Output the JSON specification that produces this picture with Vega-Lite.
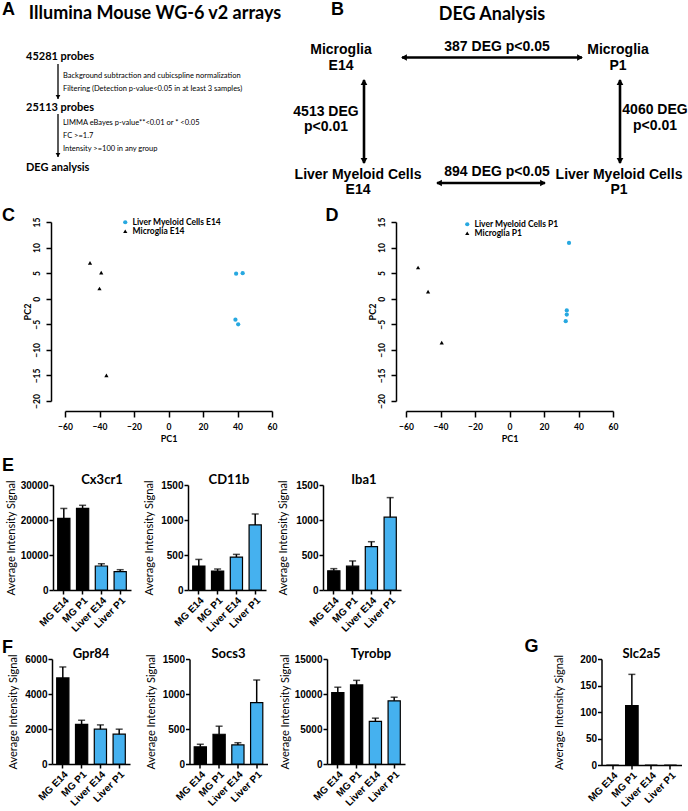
{
  "$schema": "https://vega.github.io/schema/vega-lite/v6.json",
  "padding": 0,
  "background": "#ffffff",
  "config": {
    "view": {"stroke": null},
    "font": "Lato",
    "axis": {"grid": false, "labelOverlap": false, "domainColor": "#000000", "tickColor": "#000000", "labelColor": "#000000", "titleColor": "#000000", "domainWidth": 1.5, "tickWidth": 1.5},
    "axisQuantitative": {"labelOverlap": false},
    "title": {"color": "#000000"}
  },
  "datasets": {
    "diagLetters": [{"x": 2, "y": 10, "t": "A"}, {"x": 331, "y": 10, "t": "B"}],
    "diagHeadings": [{"x": 155, "y": 14, "t": "Illumina Mouse WG-6 v2 arrays"}, {"x": 492, "y": 15, "t": "DEG Analysis"}],
    "diagCounts": [{"x": 26, "y": 57, "t": "45281 probes"}, {"x": 26, "y": 108, "t": "25113 probes"}, {"x": 26, "y": 168, "t": "DEG analysis"}],
    "diagNotes": [
      {"x": 63, "y": 76, "t": "Background subtraction and cubicspline normalization"},
      {"x": 63, "y": 89, "t": "Filtering (Detection p-value<0.05 in at least 3 samples)"},
      {"x": 63, "y": 123, "t": "LIMMA eBayes p-value**<0.01 or * <0.05"},
      {"x": 63, "y": 136, "t": "FC >=1.7"},
      {"x": 63, "y": 149, "t": "Intensity >=100 in any group"}
    ],
    "diagB": [
      {"x": 341, "y": 50, "t": "Microglia"}, {"x": 341, "y": 66, "t": "E14"},
      {"x": 618, "y": 50, "t": "Microglia"}, {"x": 618, "y": 66, "t": "P1"},
      {"x": 358, "y": 175, "t": "Liver Myeloid Cells"}, {"x": 358, "y": 190, "t": "E14"},
      {"x": 619, "y": 175, "t": "Liver Myeloid Cells"}, {"x": 619, "y": 190, "t": "P1"},
      {"x": 497, "y": 47, "t": "387 DEG p<0.05"},
      {"x": 326, "y": 112, "t": "4513 DEG"}, {"x": 326, "y": 127, "t": "p<0.01"},
      {"x": 655, "y": 110, "t": "4060 DEG"}, {"x": 655, "y": 126, "t": "p<0.01"},
      {"x": 497, "y": 172, "t": "894 DEG p<0.05"}
    ],
    "diagLinesA": [{"x": 58, "y": 64, "x2": 58, "y2": 99}, {"x": 58, "y": 114, "x2": 58, "y2": 157}],
    "diagLinesB": [
      {"x": 402, "y": 57.5, "x2": 582, "y2": 57.5},
      {"x": 364, "y": 80, "x2": 364, "y2": 163},
      {"x": 620, "y": 80, "x2": 620, "y2": 163},
      {"x": 437, "y": 183, "x2": 545, "y2": 183}
    ],
    "diagHeadsA": [{"x": 58, "y": 97, "dir": "down"}, {"x": 58, "y": 155, "dir": "down"}],
    "diagHeadsB": [
      {"x": 404, "y": 57.5, "dir": "left"}, {"x": 580, "y": 57.5, "dir": "right"},
      {"x": 364, "y": 82, "dir": "up"}, {"x": 364, "y": 161, "dir": "down"},
      {"x": 620, "y": 82, "dir": "up"}, {"x": 620, "y": 161, "dir": "down"},
      {"x": 439, "y": 183, "dir": "left"}, {"x": 543, "y": 183, "dir": "right"}
    ],
    "pcaE14": [
      {"group": "Microglia E14", "PC1": -45.5, "PC2": 7},
      {"group": "Microglia E14", "PC1": -39, "PC2": 5.1},
      {"group": "Microglia E14", "PC1": -40, "PC2": 2},
      {"group": "Microglia E14", "PC1": -36, "PC2": -15},
      {"group": "Liver Myeloid Cells E14", "PC1": 39.2, "PC2": 4.9},
      {"group": "Liver Myeloid Cells E14", "PC1": 43, "PC2": 5},
      {"group": "Liver Myeloid Cells E14", "PC1": 38.8, "PC2": -4.1},
      {"group": "Liver Myeloid Cells E14", "PC1": 40.4, "PC2": -5}
    ],
    "pcaP1": [
      {"group": "Microglia P1", "PC1": -53, "PC2": 6.1},
      {"group": "Microglia P1", "PC1": -47.2, "PC2": 1.4},
      {"group": "Microglia P1", "PC1": -39.3, "PC2": -8.6},
      {"group": "Liver Myeloid Cells P1", "PC1": 34.5, "PC2": 10.9},
      {"group": "Liver Myeloid Cells P1", "PC1": 33.2, "PC2": -2.3},
      {"group": "Liver Myeloid Cells P1", "PC1": 33.2, "PC2": -3.1},
      {"group": "Liver Myeloid Cells P1", "PC1": 32.6, "PC2": -4.4}
    ],
    "bars": [
      {"gene": "Cx3cr1", "group": "MG E14", "value": 20460, "hi": 23300},
      {"gene": "Cx3cr1", "group": "MG P1", "value": 23300, "hi": 24200},
      {"gene": "Cx3cr1", "group": "Liver E14", "value": 6860, "hi": 7500},
      {"gene": "Cx3cr1", "group": "Liver P1", "value": 5230, "hi": 5800},
      {"gene": "CD11b", "group": "MG E14", "value": 343, "hi": 437},
      {"gene": "CD11b", "group": "MG P1", "value": 271, "hi": 300},
      {"gene": "CD11b", "group": "Liver E14", "value": 471, "hi": 509},
      {"gene": "CD11b", "group": "Liver P1", "value": 929, "hi": 1086},
      {"gene": "Iba1", "group": "MG E14", "value": 275, "hi": 305},
      {"gene": "Iba1", "group": "MG P1", "value": 340, "hi": 415},
      {"gene": "Iba1", "group": "Liver E14", "value": 620, "hi": 690},
      {"gene": "Iba1", "group": "Liver P1", "value": 1040, "hi": 1320},
      {"gene": "Gpr84", "group": "MG E14", "value": 4920, "hi": 5545},
      {"gene": "Gpr84", "group": "MG P1", "value": 2270, "hi": 2500},
      {"gene": "Gpr84", "group": "Liver E14", "value": 1990, "hi": 2235},
      {"gene": "Gpr84", "group": "Liver P1", "value": 1705, "hi": 1990},
      {"gene": "Socs3", "group": "MG E14", "value": 245, "hi": 282},
      {"gene": "Socs3", "group": "MG P1", "value": 425, "hi": 540},
      {"gene": "Socs3", "group": "Liver E14", "value": 272, "hi": 304},
      {"gene": "Socs3", "group": "Liver P1", "value": 877, "hi": 1200},
      {"gene": "Tyrobp", "group": "MG E14", "value": 10200, "hi": 10970},
      {"gene": "Tyrobp", "group": "MG P1", "value": 11300, "hi": 11950},
      {"gene": "Tyrobp", "group": "Liver E14", "value": 6100, "hi": 6550},
      {"gene": "Tyrobp", "group": "Liver P1", "value": 9020, "hi": 9540},
      {"gene": "Slc2a5", "group": "MG E14", "value": 0, "hi": null},
      {"gene": "Slc2a5", "group": "MG P1", "value": 112, "hi": 171},
      {"gene": "Slc2a5", "group": "Liver E14", "value": 0, "hi": null},
      {"gene": "Slc2a5", "group": "Liver P1", "value": 0, "hi": null}
    ]
  },
  "columns": 1,
  "spacing": 6,
  "resolve": {"scale": {"color": "independent", "shape": "independent"}},
  "concat": [
    {
      "width": 688, "height": 200,
      "encoding": {
        "x": {"field": "x", "type": "quantitative", "scale": {"domain": [0, 688]}, "axis": null},
        "y": {"field": "y", "type": "quantitative", "scale": {"domain": [0, 200], "reverse": true}, "axis": null}
      },
      "layer": [
        {"data": {"name": "diagLinesA"}, "mark": {"type": "rule", "strokeWidth": 1.3, "color": "#000000"}, "encoding": {"x2": {"field": "x2"}, "y2": {"field": "y2"}}},
        {"data": {"name": "diagLinesB"}, "mark": {"type": "rule", "strokeWidth": 2.6, "color": "#000000"}, "encoding": {"x2": {"field": "x2"}, "y2": {"field": "y2"}}},
        {"data": {"name": "diagHeadsA"}, "mark": {"type": "point", "filled": true, "size": 22, "color": "#000000", "opacity": 1}, "encoding": {"shape": {"field": "dir", "type": "nominal", "scale": {"domain": ["left", "right", "up", "down"], "range": ["triangle-left", "triangle-right", "triangle-up", "triangle-down"]}, "legend": null}}},
        {"data": {"name": "diagHeadsB"}, "mark": {"type": "point", "filled": true, "size": 45, "color": "#000000", "opacity": 1}, "encoding": {"shape": {"field": "dir", "type": "nominal", "scale": {"domain": ["left", "right", "up", "down"], "range": ["triangle-left", "triangle-right", "triangle-up", "triangle-down"]}, "legend": null}}},
        {"data": {"name": "diagLetters"}, "mark": {"type": "text", "align": "left", "baseline": "middle", "font": "Liberation Sans", "fontSize": 18, "fontWeight": "bold", "color": "#000000"}, "encoding": {"text": {"field": "t"}}},
        {"data": {"name": "diagHeadings"}, "mark": {"type": "text", "align": "center", "baseline": "middle", "font": "Lato", "fontSize": 18, "fontWeight": "bold", "color": "#000000"}, "encoding": {"text": {"field": "t"}}},
        {"data": {"name": "diagCounts"}, "mark": {"type": "text", "align": "left", "baseline": "middle", "font": "Lato", "fontSize": 11, "fontWeight": "bold", "color": "#000000"}, "encoding": {"text": {"field": "t"}}},
        {"data": {"name": "diagNotes"}, "mark": {"type": "text", "align": "left", "baseline": "middle", "font": "Lato", "fontSize": 7.5, "color": "#000000"}, "encoding": {"text": {"field": "t"}}},
        {"data": {"name": "diagB"}, "mark": {"type": "text", "align": "center", "baseline": "middle", "font": "Liberation Sans", "fontSize": 14, "fontWeight": "bold", "color": "#000000"}, "encoding": {"text": {"field": "t"}}}
      ]
    },
    {
      "columns": 1,
      "spacing": 13,
      "resolve": {"scale": {"color": "independent", "shape": "independent"}},
      "concat": [
        {
          "bounds": "flush",
          "spacing": 53,
          "resolve": {"scale": {"color": "independent", "shape": "independent"}},
          "hconcat": [
            {
              "width": 12, "height": 10,
              "title": {"text": "C", "anchor": "start", "frame": "bounds", "font": "Liberation Sans", "fontSize": 18, "fontWeight": "bold", "baseline": "alphabetic", "offset": -17, "dx": 2},
              "data": {"values": []},
              "mark": "point"
            },
            {
              "bounds": "flush",
              "spacing": 134,
              "resolve": {"scale": {"color": "independent", "shape": "independent"}},
              "hconcat": [
                {
                  "width": 207, "height": 179,
                  "data": {"name": "pcaE14"},
                  "mark": {"type": "point", "filled": true, "size": 18, "opacity": 1},
                  "encoding": {
                    "x": {"field": "PC1", "type": "quantitative", "scale": {"domain": [-60, 60], "nice": false}, "axis": {"values": [-60, -40, -20, 0, 20, 40, 60], "offset": 10, "tickSize": 6, "labelFont": "Lato", "labelFontSize": 8.5, "labelFontWeight": "bold", "labelPadding": 5, "labelFlush": false, "title": "PC1", "titleFont": "Lato", "titleFontSize": 9, "titleFontWeight": "bold", "titlePadding": 4}},
                    "y": {"field": "PC2", "type": "quantitative", "scale": {"domain": [-20, 15], "nice": false}, "axis": {"values": [-20, -15, -10, -5, 0, 5, 10, 15], "offset": 14, "tickSize": 5, "labelAngle": 270, "labelFont": "Lato", "labelFontSize": 8.5, "labelFontWeight": "bold", "labelPadding": 5, "labelOverlap": false, "title": "PC2", "titleFont": "Lato", "titleFontSize": 9, "titleFontWeight": "bold", "titlePadding": 0}},
                    "color": {"field": "group", "type": "nominal", "scale": {"domain": ["Liver Myeloid Cells E14", "Microglia E14"], "range": ["#27a8e0", "#000000"]}, "legend": {"orient": "none", "legendX": 56, "legendY": -4, "title": null, "labelFont": "Lato", "labelFontSize": 8.5, "labelFontWeight": "bold", "symbolSize": 18, "rowPadding": 0, "labelOffset": 3, "padding": 0, "symbolStrokeWidth": 0, "labelLimit": 300}},
                    "shape": {"field": "group", "type": "nominal", "scale": {"domain": ["Liver Myeloid Cells E14", "Microglia E14"], "range": ["circle", "triangle-up"]}}
                  }
                },
                {
                  "width": 207, "height": 179,
                  "title": {"text": "D", "anchor": "start", "frame": "bounds", "font": "Liberation Sans", "fontSize": 18, "fontWeight": "bold", "baseline": "alphabetic", "offset": -21.5, "dx": -42.5},
                  "data": {"name": "pcaP1"},
                  "mark": {"type": "point", "filled": true, "size": 18, "opacity": 1},
                  "encoding": {
                    "x": {"field": "PC1", "type": "quantitative", "scale": {"domain": [-60, 60], "nice": false}, "axis": {"values": [-60, -40, -20, 0, 20, 40, 60], "offset": 10, "tickSize": 6, "labelFont": "Lato", "labelFontSize": 8.5, "labelFontWeight": "bold", "labelPadding": 5, "labelFlush": false, "title": "PC1", "titleFont": "Lato", "titleFontSize": 9, "titleFontWeight": "bold", "titlePadding": 4}},
                    "y": {"field": "PC2", "type": "quantitative", "scale": {"domain": [-20, 15], "nice": false}, "axis": {"values": [-20, -15, -10, -5, 0, 5, 10, 15], "offset": 10, "tickSize": 5, "labelAngle": 270, "labelFont": "Lato", "labelFontSize": 8.5, "labelFontWeight": "bold", "labelPadding": 5, "labelOverlap": false, "title": "PC2", "titleFont": "Lato", "titleFontSize": 9, "titleFontWeight": "bold", "titlePadding": 0}},
                    "color": {"field": "group", "type": "nominal", "scale": {"domain": ["Liver Myeloid Cells P1", "Microglia P1"], "range": ["#27a8e0", "#000000"]}, "legend": {"orient": "none", "legendX": 57, "legendY": -2, "title": null, "labelFont": "Lato", "labelFontSize": 8.5, "labelFontWeight": "bold", "symbolSize": 18, "rowPadding": 0, "labelOffset": 3, "padding": 0, "symbolStrokeWidth": 0, "labelLimit": 300}},
                    "shape": {"field": "group", "type": "nominal", "scale": {"domain": ["Liver Myeloid Cells P1", "Microglia P1"], "range": ["circle", "triangle-up"]}}
                  }
                }
              ]
            }
          ]
        },
        {
          "columns": 1,
          "spacing": 4,
          "concat": [
            {
              "bounds": "flush",
              "spacing": 41,
              "hconcat": [
                {
                  "width": 12, "height": 10,
                  "title": {"text": "E", "anchor": "start", "frame": "bounds", "font": "Liberation Sans", "fontSize": 18, "fontWeight": "bold", "baseline": "alphabetic", "offset": -4.4, "dx": 2},
                  "data": {"values": []},
                  "mark": "point"
                },
                {
                  "bounds": "flush",
                  "spacing": 57,
                  "hconcat": [
                    {
                      "width": 78, "height": 105,
                      "title": {"text": "Cx3cr1", "frame": "group", "font": "Lato", "fontSize": 13, "fontWeight": "bold", "baseline": "alphabetic", "offset": -17, "dx": 10},
                      "data": {"name": "bars"},
                      "transform": [{"filter": "datum.gene === 'Cx3cr1'"}],
                      "encoding": {"x": {"field": "group", "type": "nominal", "sort": ["MG E14", "MG P1", "Liver E14", "Liver P1"], "scale": {"paddingInner": 0.35, "paddingOuter": 0.25}, "axis": {"title": null, "labelAngle": -45, "labelFont": "Liberation Sans", "labelFontWeight": "bold", "labelFontSize": 10, "tickSize": 4, "labelPadding": 1}}},
                      "layer": [
                        {"mark": {"type": "bar", "stroke": "#000000", "strokeWidth": 1.2}, "encoding": {"y": {"field": "value", "type": "quantitative", "scale": {"domain": [0, 30000], "nice": false}, "axis": {"values": [0, 10000, 20000, 30000], "format": "d", "labelOverlap": false, "tickSize": 4, "labelFont": "Liberation Sans", "labelFontWeight": "bold", "labelFontSize": 10, "labelPadding": 1, "title": "Average Intensity Signal", "titleFont": "Lato", "titleFontSize": 11, "titleFontWeight": "normal", "titlePadding": 4}}, "color": {"field": "group", "type": "nominal", "scale": {"domain": ["MG E14", "MG P1", "Liver E14", "Liver P1"], "range": ["#000000", "#000000", "#45b1ef", "#45b1ef"]}, "legend": null}}},
                        {"transform": [{"filter": "datum.hi != null"}], "mark": {"type": "rule", "strokeWidth": 1.5, "color": "#000000"}, "encoding": {"y": {"field": "value", "type": "quantitative", "scale": {"domain": [0, 30000], "nice": false}, "axis": {"values": [0, 10000, 20000, 30000], "format": "d", "labelOverlap": false, "tickSize": 4, "labelFont": "Liberation Sans", "labelFontWeight": "bold", "labelFontSize": 10, "labelPadding": 1, "title": "Average Intensity Signal", "titleFont": "Lato", "titleFontSize": 11, "titleFontWeight": "normal", "titlePadding": 4}}, "y2": {"field": "hi"}}},
                        {"transform": [{"filter": "datum.hi != null"}], "mark": {"type": "tick", "thickness": 1.5, "size": 7, "color": "#000000"}, "encoding": {"y": {"field": "hi", "type": "quantitative", "scale": {"domain": [0, 30000], "nice": false}, "axis": {"values": [0, 10000, 20000, 30000], "format": "d", "labelOverlap": false, "tickSize": 4, "labelFont": "Liberation Sans", "labelFontWeight": "bold", "labelFontSize": 10, "labelPadding": 1, "title": "Average Intensity Signal", "titleFont": "Lato", "titleFontSize": 11, "titleFontWeight": "normal", "titlePadding": 4}}}}
                      ]
                    },
                    {
                      "width": 78, "height": 105,
                      "title": {"text": "CD11b", "frame": "group", "font": "Lato", "fontSize": 13, "fontWeight": "bold", "baseline": "alphabetic", "offset": -17, "dx": 2},
                      "data": {"name": "bars"},
                      "transform": [{"filter": "datum.gene === 'CD11b'"}],
                      "encoding": {"x": {"field": "group", "type": "nominal", "sort": ["MG E14", "MG P1", "Liver E14", "Liver P1"], "scale": {"paddingInner": 0.35, "paddingOuter": 0.25}, "axis": {"title": null, "labelAngle": -45, "labelFont": "Liberation Sans", "labelFontWeight": "bold", "labelFontSize": 10, "tickSize": 4, "labelPadding": 1}}},
                      "layer": [
                        {"mark": {"type": "bar", "stroke": "#000000", "strokeWidth": 1.2}, "encoding": {"y": {"field": "value", "type": "quantitative", "scale": {"domain": [0, 1500], "nice": false}, "axis": {"values": [0, 500, 1000, 1500], "format": "d", "labelOverlap": false, "tickSize": 4, "labelFont": "Liberation Sans", "labelFontWeight": "bold", "labelFontSize": 10, "labelPadding": 1, "title": "Average Intensity Signal", "titleFont": "Lato", "titleFontSize": 11, "titleFontWeight": "normal", "titlePadding": 6}}, "color": {"field": "group", "type": "nominal", "scale": {"domain": ["MG E14", "MG P1", "Liver E14", "Liver P1"], "range": ["#000000", "#000000", "#45b1ef", "#45b1ef"]}, "legend": null}}},
                        {"transform": [{"filter": "datum.hi != null"}], "mark": {"type": "rule", "strokeWidth": 1.5, "color": "#000000"}, "encoding": {"y": {"field": "value", "type": "quantitative", "scale": {"domain": [0, 1500], "nice": false}, "axis": {"values": [0, 500, 1000, 1500], "format": "d", "labelOverlap": false, "tickSize": 4, "labelFont": "Liberation Sans", "labelFontWeight": "bold", "labelFontSize": 10, "labelPadding": 1, "title": "Average Intensity Signal", "titleFont": "Lato", "titleFontSize": 11, "titleFontWeight": "normal", "titlePadding": 6}}, "y2": {"field": "hi"}}},
                        {"transform": [{"filter": "datum.hi != null"}], "mark": {"type": "tick", "thickness": 1.5, "size": 7, "color": "#000000"}, "encoding": {"y": {"field": "hi", "type": "quantitative", "scale": {"domain": [0, 1500], "nice": false}, "axis": {"values": [0, 500, 1000, 1500], "format": "d", "labelOverlap": false, "tickSize": 4, "labelFont": "Liberation Sans", "labelFontWeight": "bold", "labelFontSize": 10, "labelPadding": 1, "title": "Average Intensity Signal", "titleFont": "Lato", "titleFontSize": 11, "titleFontWeight": "normal", "titlePadding": 6}}}}
                      ]
                    },
                    {
                      "width": 78, "height": 105,
                      "title": {"text": "Iba1", "frame": "group", "font": "Lato", "fontSize": 13, "fontWeight": "bold", "baseline": "alphabetic", "offset": -17, "dx": 2},
                      "data": {"name": "bars"},
                      "transform": [{"filter": "datum.gene === 'Iba1'"}],
                      "encoding": {"x": {"field": "group", "type": "nominal", "sort": ["MG E14", "MG P1", "Liver E14", "Liver P1"], "scale": {"paddingInner": 0.35, "paddingOuter": 0.25}, "axis": {"title": null, "labelAngle": -45, "labelFont": "Liberation Sans", "labelFontWeight": "bold", "labelFontSize": 10, "tickSize": 4, "labelPadding": 1}}},
                      "layer": [
                        {"mark": {"type": "bar", "stroke": "#000000", "strokeWidth": 1.2}, "encoding": {"y": {"field": "value", "type": "quantitative", "scale": {"domain": [0, 1500], "nice": false}, "axis": {"values": [0, 500, 1000, 1500], "format": "d", "labelOverlap": false, "tickSize": 4, "labelFont": "Liberation Sans", "labelFontWeight": "bold", "labelFontSize": 10, "labelPadding": 1, "title": "Average Intensity Signal", "titleFont": "Lato", "titleFontSize": 11, "titleFontWeight": "normal", "titlePadding": 7}}, "color": {"field": "group", "type": "nominal", "scale": {"domain": ["MG E14", "MG P1", "Liver E14", "Liver P1"], "range": ["#000000", "#000000", "#45b1ef", "#45b1ef"]}, "legend": null}}},
                        {"transform": [{"filter": "datum.hi != null"}], "mark": {"type": "rule", "strokeWidth": 1.5, "color": "#000000"}, "encoding": {"y": {"field": "value", "type": "quantitative", "scale": {"domain": [0, 1500], "nice": false}, "axis": {"values": [0, 500, 1000, 1500], "format": "d", "labelOverlap": false, "tickSize": 4, "labelFont": "Liberation Sans", "labelFontWeight": "bold", "labelFontSize": 10, "labelPadding": 1, "title": "Average Intensity Signal", "titleFont": "Lato", "titleFontSize": 11, "titleFontWeight": "normal", "titlePadding": 7}}, "y2": {"field": "hi"}}},
                        {"transform": [{"filter": "datum.hi != null"}], "mark": {"type": "tick", "thickness": 1.5, "size": 7, "color": "#000000"}, "encoding": {"y": {"field": "hi", "type": "quantitative", "scale": {"domain": [0, 1500], "nice": false}, "axis": {"values": [0, 500, 1000, 1500], "format": "d", "labelOverlap": false, "tickSize": 4, "labelFont": "Liberation Sans", "labelFontWeight": "bold", "labelFontSize": 10, "labelPadding": 1, "title": "Average Intensity Signal", "titleFont": "Lato", "titleFontSize": 11, "titleFontWeight": "normal", "titlePadding": 7}}}}
                      ]
                    }
                  ]
                }
              ]
            },
            {
              "bounds": "flush",
              "spacing": 40,
              "hconcat": [
                {
                  "width": 12, "height": 10,
                  "title": {"text": "F", "anchor": "start", "frame": "bounds", "font": "Liberation Sans", "fontSize": 18, "fontWeight": "bold", "baseline": "alphabetic", "offset": -12.3, "dx": 2},
                  "data": {"values": []},
                  "mark": "point"
                },
                {
                  "spacing": 119.5,
                  "hconcat": [
                    {
                      "bounds": "flush",
                      "spacing": 59.5,
                      "hconcat": [
                        {
                          "width": 78, "height": 105,
                          "title": {"text": "Gpr84", "frame": "group", "font": "Lato", "fontSize": 13, "fontWeight": "bold", "baseline": "alphabetic", "offset": -17, "dx": 0},
                          "data": {"name": "bars"},
                          "transform": [{"filter": "datum.gene === 'Gpr84'"}],
                          "encoding": {"x": {"field": "group", "type": "nominal", "sort": ["MG E14", "MG P1", "Liver E14", "Liver P1"], "scale": {"paddingInner": 0.35, "paddingOuter": 0.25}, "axis": {"title": null, "labelAngle": -45, "labelFont": "Liberation Sans", "labelFontWeight": "bold", "labelFontSize": 10, "tickSize": 4, "labelPadding": 1}}},
                          "layer": [
                            {"mark": {"type": "bar", "stroke": "#000000", "strokeWidth": 1.2}, "encoding": {"y": {"field": "value", "type": "quantitative", "scale": {"domain": [0, 6000], "nice": false}, "axis": {"values": [0, 2000, 4000, 6000], "format": "d", "labelOverlap": false, "tickSize": 4, "labelFont": "Liberation Sans", "labelFontWeight": "bold", "labelFontSize": 10, "labelPadding": 1, "title": "Average Intensity Signal", "titleFont": "Lato", "titleFontSize": 11, "titleFontWeight": "normal", "titlePadding": 6.5}}, "color": {"field": "group", "type": "nominal", "scale": {"domain": ["MG E14", "MG P1", "Liver E14", "Liver P1"], "range": ["#000000", "#000000", "#45b1ef", "#45b1ef"]}, "legend": null}}},
                            {"transform": [{"filter": "datum.hi != null"}], "mark": {"type": "rule", "strokeWidth": 1.5, "color": "#000000"}, "encoding": {"y": {"field": "value", "type": "quantitative", "scale": {"domain": [0, 6000], "nice": false}, "axis": {"values": [0, 2000, 4000, 6000], "format": "d", "labelOverlap": false, "tickSize": 4, "labelFont": "Liberation Sans", "labelFontWeight": "bold", "labelFontSize": 10, "labelPadding": 1, "title": "Average Intensity Signal", "titleFont": "Lato", "titleFontSize": 11, "titleFontWeight": "normal", "titlePadding": 6.5}}, "y2": {"field": "hi"}}},
                            {"transform": [{"filter": "datum.hi != null"}], "mark": {"type": "tick", "thickness": 1.5, "size": 7, "color": "#000000"}, "encoding": {"y": {"field": "hi", "type": "quantitative", "scale": {"domain": [0, 6000], "nice": false}, "axis": {"values": [0, 2000, 4000, 6000], "format": "d", "labelOverlap": false, "tickSize": 4, "labelFont": "Liberation Sans", "labelFontWeight": "bold", "labelFontSize": 10, "labelPadding": 1, "title": "Average Intensity Signal", "titleFont": "Lato", "titleFontSize": 11, "titleFontWeight": "normal", "titlePadding": 6.5}}}}
                          ]
                        },
                        {
                          "width": 78, "height": 105,
                          "title": {"text": "Socs3", "frame": "group", "font": "Lato", "fontSize": 13, "fontWeight": "bold", "baseline": "alphabetic", "offset": -17, "dx": 0},
                          "data": {"name": "bars"},
                          "transform": [{"filter": "datum.gene === 'Socs3'"}],
                          "encoding": {"x": {"field": "group", "type": "nominal", "sort": ["MG E14", "MG P1", "Liver E14", "Liver P1"], "scale": {"paddingInner": 0.35, "paddingOuter": 0.25}, "axis": {"title": null, "labelAngle": -45, "labelFont": "Liberation Sans", "labelFontWeight": "bold", "labelFontSize": 10, "tickSize": 4, "labelPadding": 1}}},
                          "layer": [
                            {"mark": {"type": "bar", "stroke": "#000000", "strokeWidth": 1.2}, "encoding": {"y": {"field": "value", "type": "quantitative", "scale": {"domain": [0, 1500], "nice": false}, "axis": {"values": [0, 500, 1000, 1500], "format": "d", "labelOverlap": false, "tickSize": 4, "labelFont": "Liberation Sans", "labelFontWeight": "bold", "labelFontSize": 10, "labelPadding": 1, "title": "Average Intensity Signal", "titleFont": "Lato", "titleFontSize": 11, "titleFontWeight": "normal", "titlePadding": 6}}, "color": {"field": "group", "type": "nominal", "scale": {"domain": ["MG E14", "MG P1", "Liver E14", "Liver P1"], "range": ["#000000", "#000000", "#45b1ef", "#45b1ef"]}, "legend": null}}},
                            {"transform": [{"filter": "datum.hi != null"}], "mark": {"type": "rule", "strokeWidth": 1.5, "color": "#000000"}, "encoding": {"y": {"field": "value", "type": "quantitative", "scale": {"domain": [0, 1500], "nice": false}, "axis": {"values": [0, 500, 1000, 1500], "format": "d", "labelOverlap": false, "tickSize": 4, "labelFont": "Liberation Sans", "labelFontWeight": "bold", "labelFontSize": 10, "labelPadding": 1, "title": "Average Intensity Signal", "titleFont": "Lato", "titleFontSize": 11, "titleFontWeight": "normal", "titlePadding": 6}}, "y2": {"field": "hi"}}},
                            {"transform": [{"filter": "datum.hi != null"}], "mark": {"type": "tick", "thickness": 1.5, "size": 7, "color": "#000000"}, "encoding": {"y": {"field": "hi", "type": "quantitative", "scale": {"domain": [0, 1500], "nice": false}, "axis": {"values": [0, 500, 1000, 1500], "format": "d", "labelOverlap": false, "tickSize": 4, "labelFont": "Liberation Sans", "labelFontWeight": "bold", "labelFontSize": 10, "labelPadding": 1, "title": "Average Intensity Signal", "titleFont": "Lato", "titleFontSize": 11, "titleFontWeight": "normal", "titlePadding": 6}}}}
                          ]
                        },
                        {
                          "width": 78, "height": 105,
                          "title": {"text": "Tyrobp", "frame": "group", "font": "Lato", "fontSize": 13, "fontWeight": "bold", "baseline": "alphabetic", "offset": -17, "dx": 5},
                          "data": {"name": "bars"},
                          "transform": [{"filter": "datum.gene === 'Tyrobp'"}],
                          "encoding": {"x": {"field": "group", "type": "nominal", "sort": ["MG E14", "MG P1", "Liver E14", "Liver P1"], "scale": {"paddingInner": 0.35, "paddingOuter": 0.25}, "axis": {"title": null, "labelAngle": -45, "labelFont": "Liberation Sans", "labelFontWeight": "bold", "labelFontSize": 10, "tickSize": 4, "labelPadding": 1}}},
                          "layer": [
                            {"mark": {"type": "bar", "stroke": "#000000", "strokeWidth": 1.2}, "encoding": {"y": {"field": "value", "type": "quantitative", "scale": {"domain": [0, 15000], "nice": false}, "axis": {"values": [0, 5000, 10000, 15000], "format": "d", "labelOverlap": false, "tickSize": 4, "labelFont": "Liberation Sans", "labelFontWeight": "bold", "labelFontSize": 10, "labelPadding": 1, "title": "Average Intensity Signal", "titleFont": "Lato", "titleFontSize": 11, "titleFontWeight": "normal", "titlePadding": 4}}, "color": {"field": "group", "type": "nominal", "scale": {"domain": ["MG E14", "MG P1", "Liver E14", "Liver P1"], "range": ["#000000", "#000000", "#45b1ef", "#45b1ef"]}, "legend": null}}},
                            {"transform": [{"filter": "datum.hi != null"}], "mark": {"type": "rule", "strokeWidth": 1.5, "color": "#000000"}, "encoding": {"y": {"field": "value", "type": "quantitative", "scale": {"domain": [0, 15000], "nice": false}, "axis": {"values": [0, 5000, 10000, 15000], "format": "d", "labelOverlap": false, "tickSize": 4, "labelFont": "Liberation Sans", "labelFontWeight": "bold", "labelFontSize": 10, "labelPadding": 1, "title": "Average Intensity Signal", "titleFont": "Lato", "titleFontSize": 11, "titleFontWeight": "normal", "titlePadding": 4}}, "y2": {"field": "hi"}}},
                            {"transform": [{"filter": "datum.hi != null"}], "mark": {"type": "tick", "thickness": 1.5, "size": 7, "color": "#000000"}, "encoding": {"y": {"field": "hi", "type": "quantitative", "scale": {"domain": [0, 15000], "nice": false}, "axis": {"values": [0, 5000, 10000, 15000], "format": "d", "labelOverlap": false, "tickSize": 4, "labelFont": "Liberation Sans", "labelFontWeight": "bold", "labelFontSize": 10, "labelPadding": 1, "title": "Average Intensity Signal", "titleFont": "Lato", "titleFontSize": 11, "titleFontWeight": "normal", "titlePadding": 4}}}}
                          ]
                        }
                      ]
                    },
                    {
                      "bounds": "flush",
                      "spacing": 53,
                      "hconcat": [
                        {
                          "width": 12, "height": 10,
                          "title": {"text": "G", "anchor": "start", "frame": "bounds", "font": "Liberation Sans", "fontSize": 18, "fontWeight": "bold", "baseline": "alphabetic", "offset": -11.3, "dx": -12},
                          "data": {"values": []},
                          "mark": "point"
                        },
                        {
                          "width": 80, "height": 106,
                          "title": {"text": "Slc2a5", "frame": "group", "font": "Lato", "fontSize": 13, "fontWeight": "bold", "baseline": "alphabetic", "offset": -17, "dx": 0},
                          "data": {"name": "bars"},
                          "transform": [{"filter": "datum.gene === 'Slc2a5'"}],
                          "encoding": {"x": {"field": "group", "type": "nominal", "sort": ["MG E14", "MG P1", "Liver E14", "Liver P1"], "scale": {"paddingInner": 0.35, "paddingOuter": 0.25}, "axis": {"title": null, "labelAngle": -45, "labelFont": "Liberation Sans", "labelFontWeight": "bold", "labelFontSize": 10, "tickSize": 4, "labelPadding": 1}}},
                          "layer": [
                            {"mark": {"type": "bar", "stroke": "#000000", "strokeWidth": 1.2}, "encoding": {"y": {"field": "value", "type": "quantitative", "scale": {"domain": [0, 200], "nice": false}, "axis": {"values": [0, 50, 100, 150, 200], "format": "d", "labelOverlap": false, "tickSize": 4, "labelFont": "Liberation Sans", "labelFontWeight": "bold", "labelFontSize": 10, "labelPadding": 1, "title": "Average Intensity Signal", "titleFont": "Lato", "titleFontSize": 11, "titleFontWeight": "normal", "titlePadding": 15}}, "color": {"field": "group", "type": "nominal", "scale": {"domain": ["MG E14", "MG P1", "Liver E14", "Liver P1"], "range": ["#000000", "#000000", "#45b1ef", "#45b1ef"]}, "legend": null}}},
                            {"transform": [{"filter": "datum.hi != null"}], "mark": {"type": "rule", "strokeWidth": 1.5, "color": "#000000"}, "encoding": {"y": {"field": "value", "type": "quantitative", "scale": {"domain": [0, 200], "nice": false}, "axis": {"values": [0, 50, 100, 150, 200], "format": "d", "labelOverlap": false, "tickSize": 4, "labelFont": "Liberation Sans", "labelFontWeight": "bold", "labelFontSize": 10, "labelPadding": 1, "title": "Average Intensity Signal", "titleFont": "Lato", "titleFontSize": 11, "titleFontWeight": "normal", "titlePadding": 15}}, "y2": {"field": "hi"}}},
                            {"transform": [{"filter": "datum.hi != null"}], "mark": {"type": "tick", "thickness": 1.5, "size": 7, "color": "#000000"}, "encoding": {"y": {"field": "hi", "type": "quantitative", "scale": {"domain": [0, 200], "nice": false}, "axis": {"values": [0, 50, 100, 150, 200], "format": "d", "labelOverlap": false, "tickSize": 4, "labelFont": "Liberation Sans", "labelFontWeight": "bold", "labelFontSize": 10, "labelPadding": 1, "title": "Average Intensity Signal", "titleFont": "Lato", "titleFontSize": 11, "titleFontWeight": "normal", "titlePadding": 15}}}}
                          ]
                        }
                      ]
                    }
                  ]
                }
              ]
            }
          ]
        }
      ]
    }
  ]
}
